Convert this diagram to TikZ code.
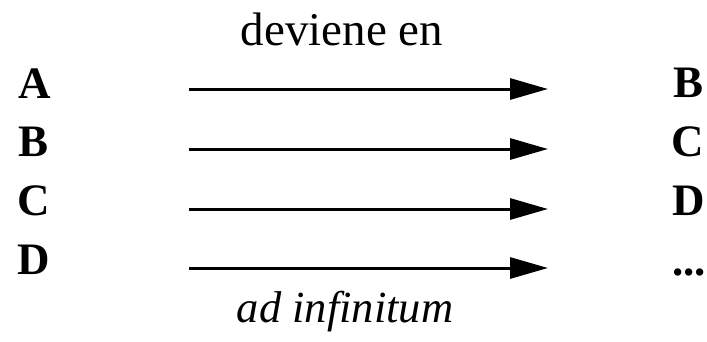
\documentclass[tikz,border=0pt]{standalone}
\usepackage{fontspec}
\setmainfont{Liberation Serif}
\usetikzlibrary{arrows.meta}
\tikzset{
  letter/.style={anchor=base west, inner sep=0pt, font=\fontsize{45}{45}\selectfont\bfseries},
  caption/.style={anchor=base, inner sep=0pt, font=\fontsize{47}{47}\selectfont},
  arr/.style={line width=3pt, -{Triangle[length=38pt, width=21pt]}}
}
\begin{document}
\begin{tikzpicture}[x=1pt, y=-1pt]
\useasboundingbox (0,0) rectangle (707,341);
\node[caption] (top) at (342,45) {deviene en};
\node[caption, font=\fontsize{44.5}{44.5}\selectfont\itshape] (bot) at (345,322) {ad infinitum};
\node[letter] (lA) at (18,98) {A};
\node[letter] (lB) at (18,156) {B};
\node[letter] (lC) at (17,215) {C};
\node[letter] (lD) at (17,274) {D};
\node[letter] (rB) at (673,97) {B};
\node[letter] (rC) at (671,156) {C};
\node[letter] (rD) at (672,215) {D};
\node[letter] (rE) at (672,275) {...};
\coordinate (s1) at (189,89);  \coordinate (e1) at (548,89);
\coordinate (s2) at (189,149); \coordinate (e2) at (548,149);
\coordinate (s3) at (189,209); \coordinate (e3) at (548,209);
\coordinate (s4) at (189,268); \coordinate (e4) at (548,268);
\draw[arr] (s1) -- (e1);
\draw[arr] (s2) -- (e2);
\draw[arr] (s3) -- (e3);
\draw[arr] (s4) -- (e4);
\end{tikzpicture}
\end{document}
